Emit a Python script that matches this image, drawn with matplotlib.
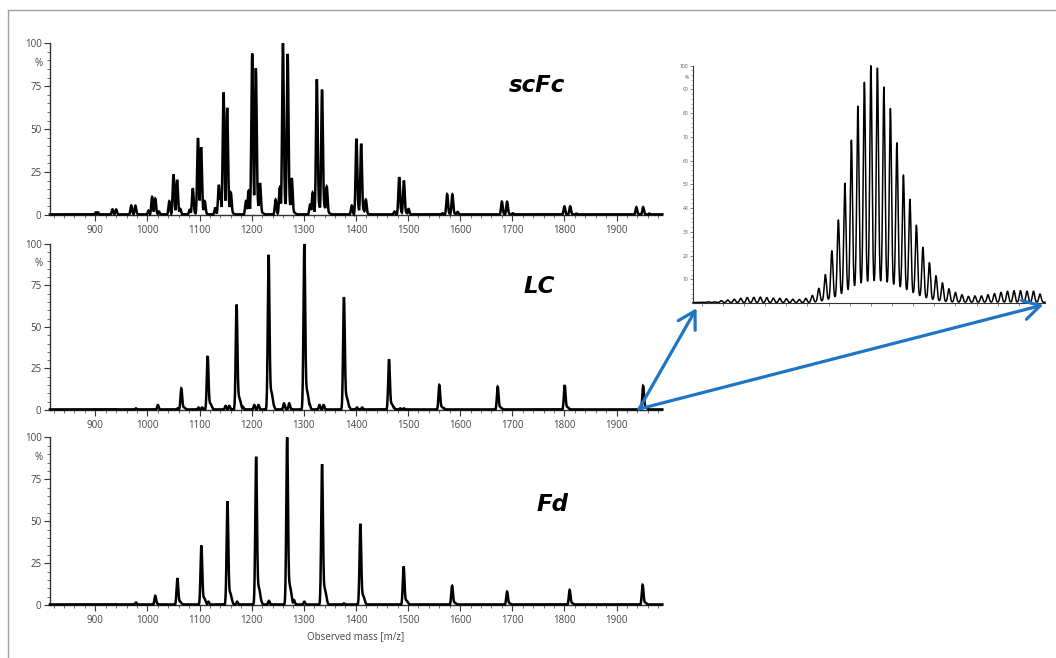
import numpy as np
import matplotlib
matplotlib.use("Agg")
import matplotlib.pyplot as plt
from matplotlib.ticker import MultipleLocator, FixedLocator
from matplotlib.patches import ConnectionPatch
from matplotlib.lines import Line2D

# ---------------- data ----------------
scfc_mz = [901, 905, 933, 940, 969, 977, 1002, 1009, 1015, 1022, 1042, 1050, 1057, 1063,
           1081, 1087, 1097, 1103, 1110, 1130, 1137, 1140, 1146, 1153, 1160, 1189, 1194,
           1201, 1208, 1216, 1246, 1254, 1260, 1269, 1277, 1312, 1317, 1325, 1335, 1344,
           1392, 1401, 1410, 1419, 1474, 1483, 1492, 1501, 1566, 1575, 1585, 1595, 1680,
           1690, 1701, 1800, 1811, 1823, 1938, 1951, 1963]
scfc_int = [1.5, 1.5, 3.2, 3.2, 5.5, 5.4, 2.5, 10.5, 9.5, 2, 8, 23.6, 20.4, 3.5,
            3, 15.5, 44.8, 39.4, 8, 4, 17.5, 11, 71.3, 62.4, 13, 8, 14,
            94, 85.4, 18.5, 9, 16, 100, 93.8, 21.4, 6, 13, 79, 73, 16.5,
            5.5, 44.4, 41.5, 9, 2, 22, 20, 3.5, 1, 12, 12, 1.8, 7.7,
            7.7, 1, 5, 5, 0.8, 4.5, 4.5, 0.8]

lc_mz = [940, 978, 1020, 1058, 1065, 1098, 1105, 1115.5, 1150, 1157, 1171, 1183, 1205,
         1213, 1232.5, 1242, 1262, 1272, 1301, 1311, 1330, 1338, 1377, 1387, 1402, 1412,
         1463.5, 1473, 1485, 1492, 1560, 1570, 1672, 1800.5, 1951]
lc_int = [0.5, 1, 3, 1, 13, 1.5, 1.5, 32.5, 2.5, 2.5, 63.5, 2, 3,
          3, 93.5, 3, 4, 4, 100, 3.5, 3, 3, 68, 2, 1.5, 1.5,
          30.5, 1.5, 1, 1, 15, 0.8, 14, 15, 14.5]

fd_mz = [940, 978, 1015, 1057.5, 1063, 1103.5, 1117, 1153.5, 1172, 1208.5, 1218, 1233,
         1268, 1276, 1281, 1301, 1335, 1342, 1377, 1408.5, 1415, 1491.5, 1584.5, 1690,
         1810, 1950]
fd_int = [0.5, 1.5, 5.5, 16, 2, 35.5, 2, 62, 2, 88.5, 2.5, 2.5,
          100, 3.5, 3, 2, 84, 4, 1, 48.5, 2, 23, 11.5, 8,
          9, 12]

# zoomed view of the LC ~1950 envelope: peak heights and valley levels
inset_peaks = [0.3, 0.5, 0.5, 1.0, 1.3, 1.6, 2.0, 2.3, 2.4, 2.5, 2.3, 2.1, 2.0, 1.8, 1.6, 1.5, 2.0,
               3.2, 6.2, 12, 22, 35, 50.5, 68.6, 83, 93, 100, 99, 91, 82, 67.5, 54, 43.7,
               32.8, 23.5, 17, 11.5, 8.5, 6, 4.5, 3.5, 2.8, 3, 3, 3.5, 4, 4.5, 5, 5.2, 5.2,
               5, 5, 3.8]
inset_valleys = [0.2] * 17 + [0.3, 0.5, 1, 1.5, 2.5, 3.5, 5, 6, 6.7, 7, 7, 7, 6.5, 5.8, 5, 4,
                              3, 2, 1.5, 1, 0.6, 0.4] + [0.3] * 14

panel_names = ["scFc", "LC", "Fd"]
x_ticks = [900, 1000, 1100, 1200, 1300, 1400, 1500, 1600, 1700, 1800, 1900]
y_ticks = [0, 25, 50, 75, 100]
inset_y_ticks = [10, 20, 30, 40, 50, 60, 70, 80, 90, 100]

# ---------------- figure ----------------
plt.rcParams['font.family'] = ['Open Sans', 'DejaVu Sans']
fig = plt.figure(figsize=(10.56, 6.58), dpi=100)
fig.patch.set_facecolor('white')

axes_rects = [
    [0.0473, 0.6733, 0.5795, 0.2610],
    [0.0473, 0.3769, 0.5795, 0.2523],
    [0.0473, 0.0805, 0.5795, 0.2547],
]
label_pos = [(0.795, 0.715), (0.799, 0.704), (0.822, 0.560)]
series = [(scfc_mz, scfc_int), (lc_mz, lc_int), (fd_mz, fd_int)]
tails = [0.06, 0.12, 0.12]

grid = np.arange(813, 1988, 0.2)
tick_col = '#444444'
axs = []
for i, (rect, (mz, it)) in enumerate(zip(axes_rects, series)):
    ax = fig.add_axes(rect)
    mz = np.asarray(mz, float)
    it = np.asarray(it, float)
    sig = 1.6
    d = grid[:, None] - mz[None, :]
    shape = np.exp(-0.5 * (d / sig) ** 2) + tails[i] * np.exp(-0.5 * ((d - 5) / 3.0) ** 2)
    shape = shape / shape.max(axis=0, keepdims=True)
    y = (it[None, :] * shape).max(axis=1)
    y = np.maximum(y, 0.35)
    ax.plot(grid, y, color='black', lw=1.8, solid_joinstyle='miter', clip_on=False, zorder=3)
    ax.set_xlim(813, 1987)
    ax.set_ylim(0, 100)
    for s in ['top', 'right']:
        ax.spines[s].set_visible(False)
    for s in ['left', 'bottom']:
        ax.spines[s].set_color('#333333')
        ax.spines[s].set_linewidth(1.0)
    ax.xaxis.set_major_locator(FixedLocator(x_ticks))
    ax.xaxis.set_minor_locator(MultipleLocator(20))
    ax.yaxis.set_major_locator(FixedLocator(y_ticks))
    ax.yaxis.set_minor_locator(MultipleLocator(5))
    ax.tick_params(which='major', length=4, width=0.8, color='#333333',
                   labelsize=7, labelcolor=tick_col, pad=2)
    ax.tick_params(which='minor', length=2, width=0.6, color='#555555')
    ax.tick_params(axis='x', which='major', pad=3)
    ax.text(-0.012, 0.88, '%', transform=ax.transAxes, ha='right', va='center',
            fontsize=7, color=tick_col)
    ax.text(label_pos[i][0], label_pos[i][1], panel_names[i], transform=ax.transAxes,
            ha='center', va='baseline', fontsize=16.5, fontweight='bold',
            fontstyle='italic', family='DejaVu Sans', color='black')
    ax.patch.set_alpha(0)
    axs.append(ax)

axs[2].set_xlabel('Observed mass [m/z]', fontsize=7, color=tick_col, labelpad=4)

# ---------------- inset ----------------
ins = fig.add_axes([0.6563, 0.5395, 0.3333, 0.3607])
pk = np.asarray(inset_peaks, float)
vl = np.asarray(inset_valleys, float)
idx = np.arange(len(pk), dtype=float)
xg = np.linspace(-1.34, 52.77, 3000)
base = np.interp(xg, idx, vl)
yi = base + ((pk - vl)[None, :] * np.exp(-0.5 * ((xg[:, None] - idx[None, :]) / 0.17) ** 2)).sum(axis=1)
ins.plot(xg, yi, color='black', lw=1.1, clip_on=False)
ins.set_xlim(-1.34, 52.77)
ins.set_ylim(0, 100)
for s in ['top', 'right']:
    ins.spines[s].set_visible(False)
for s in ['left', 'bottom']:
    ins.spines[s].set_color('#333333')
    ins.spines[s].set_linewidth(0.8)
ins.yaxis.set_major_locator(FixedLocator(inset_y_ticks))
ins.yaxis.set_minor_locator(MultipleLocator(2))
ins.xaxis.set_major_locator(MultipleLocator(13))
ins.xaxis.set_minor_locator(MultipleLocator(3.25))
ins.tick_params(axis='x', which='both', labelbottom=False, length=2, width=0.5, color='#555555')
ins.tick_params(axis='y', which='major', length=2.5, width=0.5, color='#555555',
                labelsize=3.6, labelcolor='#555555', pad=1)
ins.tick_params(axis='y', which='minor', length=1.2, width=0.4, color='#777777')
ins.text(-0.012, 0.95, '%', transform=ins.transAxes, ha='right', va='center',
         fontsize=3.6, color='#555555')
ins.patch.set_alpha(0)

# ---------------- arrows ----------------
blue = '#1f74c4'
for xyB in [(0.01, -0.022), (0.995, -0.008)]:
    con = ConnectionPatch(xyA=(1943, 0.6), coordsA=axs[1].transData,
                          xyB=xyB, coordsB=ins.transAxes,
                          arrowstyle='->,head_length=0.6,head_width=0.35',
                          mutation_scale=20, color=blue, lw=2.3, zorder=10)
    fig.add_artist(con)

# ---------------- border ----------------
fig.add_artist(Line2D([8.3 / 1056, 8.3 / 1056], [0, 1 - 10 / 658], transform=fig.transFigure,
                      color='#a0a0a0', lw=1.0))
fig.add_artist(Line2D([8.3 / 1056, 1], [1 - 10 / 658, 1 - 10 / 658], transform=fig.transFigure,
                      color='#a0a0a0', lw=1.0))

fig.savefig('out.png', dpi=100, facecolor='white')
